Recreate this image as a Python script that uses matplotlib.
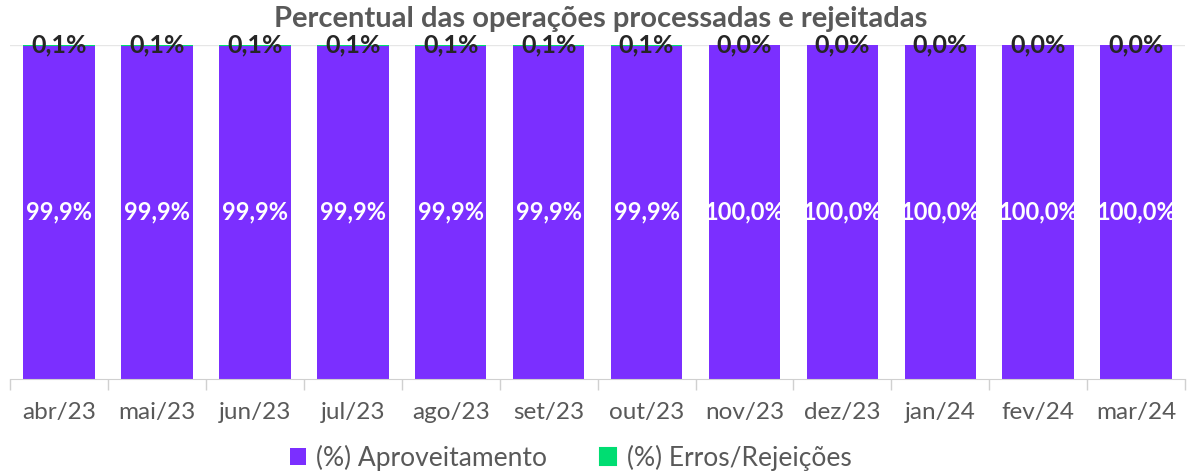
import matplotlib.pyplot as plt
import numpy as np

meses = ['abr/23', 'mai/23', 'jun/23', 'jul/23', 'ago/23', 'set/23',
         'out/23', 'nov/23', 'dez/23', 'jan/24', 'fev/24', 'mar/24']
aproveitamento = [99.9, 99.9, 99.9, 99.9, 99.9, 99.9, 99.9, 100.0, 100.0, 100.0, 100.0, 100.0]
erros = [0.1, 0.1, 0.1, 0.1, 0.1, 0.1, 0.1, 0.0, 0.0, 0.0, 0.0, 0.0]

roxo = '#7B2FFF'
verde = '#00DD72'

plt.rcParams['font.family'] = ['Lato', 'DejaVu Sans']

fig = plt.figure(figsize=(11.94, 4.75), dpi=100)
ax = fig.add_axes([0.0085, 0.202, 0.984, 0.703])

x = np.arange(len(meses))
b1 = ax.bar(x, aproveitamento, width=0.73, color=roxo, label='(%) Aproveitamento')
b2 = ax.bar(x, erros, width=0.73, bottom=aproveitamento, color=verde,
            label='(%) Erros/Rejeições')
# the thin green cap is barely visible, give it a stroke like the original
for r, e in zip(b2, erros):
    if e > 0:
        r.set_edgecolor(verde)
        r.set_linewidth(1.5)

for xi, v in zip(x, aproveitamento):
    ax.text(xi, v / 2, f'{v:.1f}%'.replace('.', ','), ha='center', va='center',
            color='white', fontsize=17, fontweight='bold')
for xi, a, e in zip(x, aproveitamento, erros):
    ax.text(xi, a + e, f'{e:.1f}%'.replace('.', ','), ha='center', va='center',
            color='#262626', fontsize=18, fontweight='bold')

ax.set_xlim(-0.5, len(meses) - 0.5)
ax.set_ylim(0, 100)
ax.axhline(100, color='#E6E6E6', lw=1, zorder=0)
ax.set_yticks([])
ax.set_xticks(np.arange(len(meses) + 1) - 0.5, minor=False)
ax.set_xticklabels([])
ax.tick_params(axis='x', length=8, color='#D0D0D0', width=1)
for xi, m in zip(x, meses):
    ax.text(xi, -0.1, m, transform=ax.get_xaxis_transform(), ha='center', va='center',
            fontsize=17.5, color='#595959')
for s in ['top', 'right', 'left']:
    ax.spines[s].set_visible(False)
ax.spines['bottom'].set_color('#D0D0D0')

fig.text(0.503, 0.96, 'Percentual das operações processadas e rejeitadas', ha='center',
         va='center', fontsize=21, fontweight='bold', color='#595959')

fig.legend(handles=[b1, b2], loc='center', bbox_to_anchor=(0.478, 0.036), ncol=2,
           frameon=False, fontsize=19, labelcolor='#595959', handlelength=0.6,
           handleheight=0.6, columnspacing=2.0, handletextpad=0.4)

fig.savefig('out.png', dpi=100)
